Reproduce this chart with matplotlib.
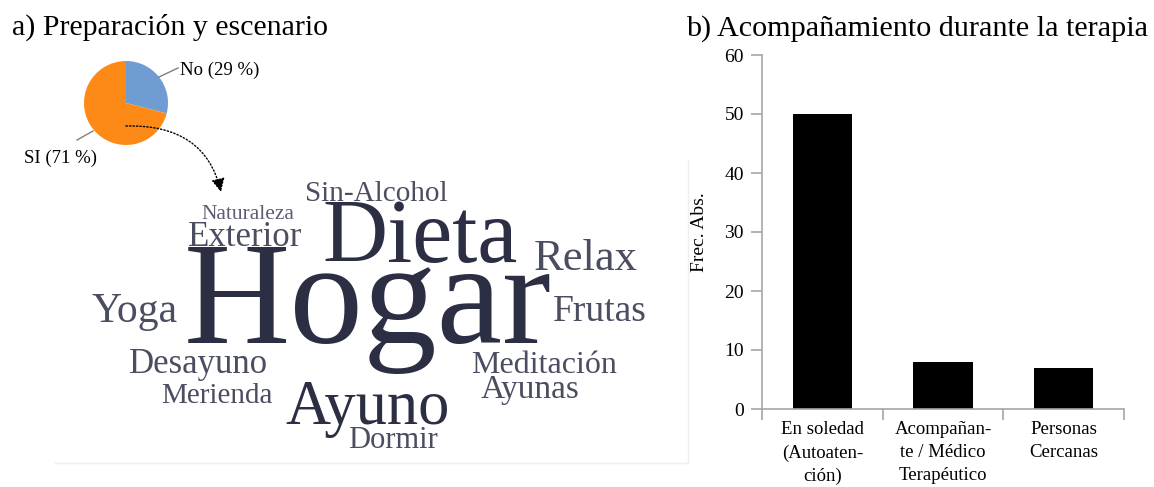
import matplotlib
matplotlib.use("Agg")
import matplotlib.pyplot as plt
from matplotlib.patches import FancyArrowPatch
from matplotlib.path import Path

plt.rcParams['font.family'] = ['Liberation Serif', 'DejaVu Serif']

# pie: preparacion
pie_labels = ['No (29 %)', 'SI (71 %)']
pie_values = [29, 71]

# word cloud: words and relative weight
words = ['Hogar', 'Dieta', 'Ayuno', 'Relax', 'Yoga', 'Frutas', 'Exterior',
         'Desayuno', 'Ayunas', 'Meditación', 'Dormir', 'Sin-Alcohol',
         'Merienda', 'Naturaleza']
word_freq = [10.6, 6.5, 4.5, 3.2, 3.0, 2.7, 2.5, 2.5, 2.4, 2.3, 2.2, 2.1, 2.1, 1.55]

# bar chart: acompanamiento
categories = ['En soledad\n(Autoaten-\nción)', 'Acompañan-\nte / Médico\nTerapéutico',
              'Personas\nCercanas']
counts = [50, 8, 7]
yticks = [0, 10, 20, 30, 40, 50, 60]

# layout of the cloud (pixel centre x, baseline y)
cloud_pos = {
    'Hogar': (368, 343), 'Dieta': (420, 262), 'Ayuno': (368, 424),
    'Relax': (586, 270), 'Yoga': (135, 322), 'Frutas': (600, 321),
    'Exterior': (245, 246), 'Desayuno': (199, 373), 'Ayunas': (530, 398),
    'Meditación': (544, 373), 'Dormir': (393, 448), 'Sin-Alcohol': (376, 201),
    'Merienda': (217, 403), 'Naturaleza': (248, 219),
}
W, H = 1154, 487

fig = plt.figure(figsize=(W / 100, H / 100), dpi=100)

# pie axes
ax_pie = fig.add_axes([84 / W, 1 - 145 / H, 84 / W, 84 / H])
ax_pie.pie(pie_values, colors=['#6f9dd3', '#fd8a17'], startangle=90,
           counterclock=False, radius=1)
ax_pie.set_xlim(-1, 1)
ax_pie.set_ylim(-1, 1)
ax_pie.set_aspect('auto')
ax_pie.axis('off')

# overlay axes in pixel coordinates
ax = fig.add_axes([0, 0, 1, 1], zorder=5)
ax.set_xlim(0, W)
ax.set_ylim(H, 0)
ax.axis('off')

ax.text(12, 35, 'a) Preparación y escenario', fontsize=21.5, ha='left', va='baseline')
ax.text(686, 36, 'b) Acompañamiento durante la terapia', fontsize=21.7,
        ha='left', va='baseline')

ax.text(180, 75, pie_labels[0], fontsize=13.5, ha='left', va='baseline')
ax.text(24, 163, pie_labels[1], fontsize=13.5, ha='left', va='baseline')
ax.plot([159, 178], [77, 68], color='#7f7f7f', lw=1)
ax.plot([93, 77], [131, 140], color='#7f7f7f', lw=1)

arrow_path = Path([(126, 126), (205, 124), (221, 192)],
                  [Path.MOVETO, Path.CURVE3, Path.CURVE3])
ax.add_patch(FancyArrowPatch(path=arrow_path, arrowstyle='-|>', mutation_scale=20,
                             linestyle=(0, (1, 1.5)), lw=1, color='black'))

dark = ['Hogar', 'Dieta', 'Ayuno']
for w, f in zip(words, word_freq):
    x, y = cloud_pos[w]
    if w in dark:
        col = '#2c2e44'
    elif w == 'Naturaleza':
        col = '#5c5e70'
    else:
        col = '#4b4d60'
    ax.text(x, y, w, fontsize=f * 10, color=col, ha='center', va='baseline')

# faint frame of the cloud image
ax.plot([55, 688, 688], [463, 463, 160], color='#efefef', lw=1)

# bar chart
ax_bar = fig.add_axes([762 / W, 1 - 409 / H, 362 / W, 354 / H])
x = range(len(categories))
ax_bar.bar(x, counts, width=0.49, color='black')
ax_bar.set_xlim(-0.5, 2.5)
ax_bar.set_ylim(0, 60)
ax_bar.set_yticks(yticks)
ax_bar.set_xticks(list(x))
ax_bar.set_xticklabels(categories, fontsize=13.5, linespacing=1.45)
ax_bar.set_xticks([-0.5, 0.5, 1.5, 2.5], minor=True)
ax_bar.tick_params(axis='x', which='major', length=0, pad=9)
ax_bar.tick_params(axis='x', which='minor', length=8, color='#a6a6a6', width=1.2)
ax_bar.tick_params(axis='y', length=8, color='#a6a6a6', width=1.2, labelsize=14, pad=5)
for s in ['top', 'right']:
    ax_bar.spines[s].set_visible(False)
for s in ['left', 'bottom']:
    ax_bar.spines[s].set_color('#a6a6a6')
    ax_bar.spines[s].set_linewidth(1.2)
ax_bar.set_ylabel('Frec. Abs.', fontsize=14)
ax_bar.yaxis.set_label_coords(-0.15, 0.5)

fig.savefig('out.png', dpi=100)
